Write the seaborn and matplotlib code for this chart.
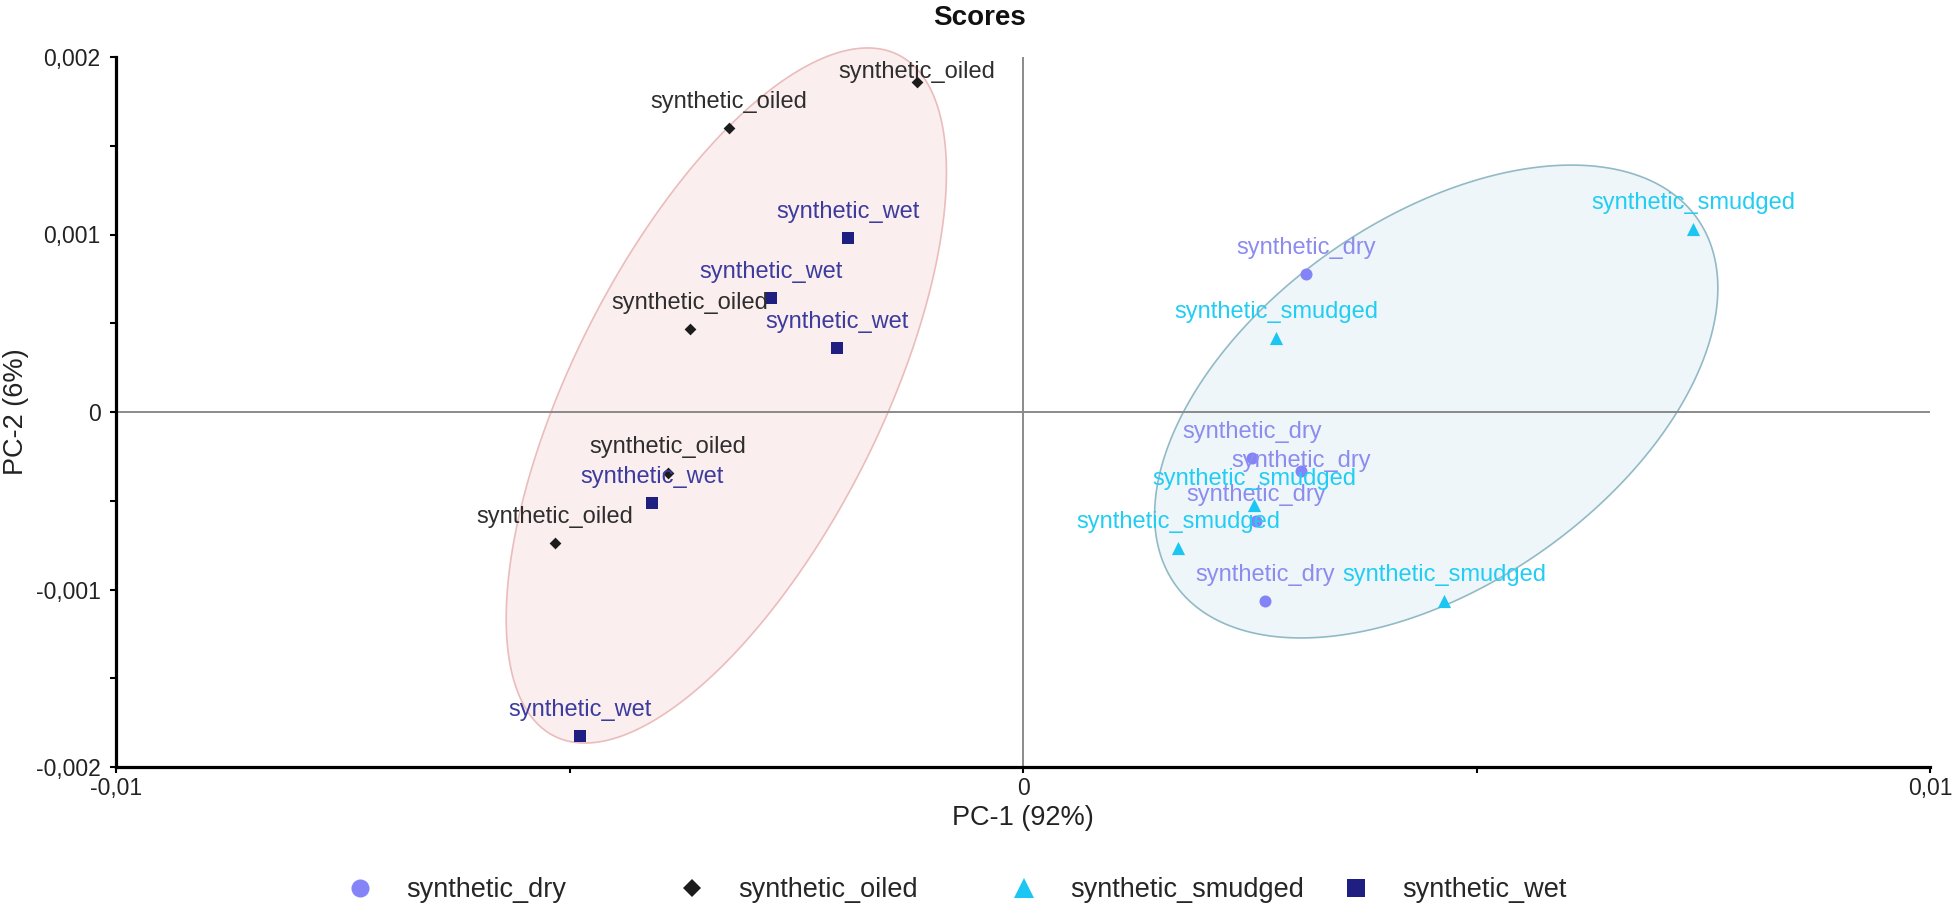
"""PCA scores plot (PC-1 vs PC-2) for the synthetic sample treatments."""

import matplotlib

matplotlib.use("Agg")
import matplotlib.pyplot as plt
import numpy as np
import pandas as pd
import seaborn as sns
from matplotlib.lines import Line2D

# ---- data ----
groups = ["synthetic_dry", "synthetic_oiled", "synthetic_smudged", "synthetic_wet"]

dry_pc1 = [0.003122, 0.002526, 0.003067, 0.002570, 0.002670]
dry_pc2 = [0.000777, -0.000259, -0.000332, -0.000614, -0.001065]

oiled_pc1 = [-0.001169, -0.003243, -0.003673, -0.003916, -0.005163]
oiled_pc2 = [0.001859, 0.001600, 0.000468, -0.000344, -0.000738]

smudged_pc1 = [0.007391, 0.002791, 0.002548, 0.001710, 0.004644]
smudged_pc2 = [0.001031, 0.000417, -0.000524, -0.000766, -0.001065]

wet_pc1 = [-0.001931, -0.002780, -0.002052, -0.004093, -0.004887]
wet_pc2 = [0.000980, 0.000642, 0.000361, -0.000513, -0.001825]

x_ticks = [-0.01, 0, 0.01]
x_tick_labels = ["-0,01", "0", "0,01"]
y_ticks = [-0.002, -0.001, 0, 0.001, 0.002]
y_tick_labels = ["-0,002", "-0,001", "0", "0,001", "0,002"]

# confidence ellipses: centre, half width (PC-1), half height (PC-2), correlation
ellipse_left = ((-0.003271, 0.000093), 0.002427, 0.001958, 0.642)
ellipse_right = ((0.004556, 0.000059), 0.003105, 0.001332, 0.480)

# ---- styling ----
marker_color = {
    "synthetic_dry": "#8484f8",
    "synthetic_oiled": "#1c1c1c",
    "synthetic_smudged": "#1cc6f2",
    "synthetic_wet": "#1f1f82",
}
label_color = {
    "synthetic_dry": "#8c8cf0",
    "synthetic_oiled": "#2e2e2e",
    "synthetic_smudged": "#22cdf4",
    "synthetic_wet": "#3c3c9e",
}
markers = {"synthetic_dry": "o", "synthetic_oiled": "D",
           "synthetic_smudged": "^", "synthetic_wet": "s"}
marker_area = {"synthetic_dry": 75, "synthetic_oiled": 36,
               "synthetic_smudged": 90, "synthetic_wet": 75}
legend_msize = {"synthetic_dry": 13, "synthetic_oiled": 9,
                "synthetic_smudged": 14, "synthetic_wet": 12.5}
# a couple of labels the original software pushed down to avoid collisions
label_lift = {("synthetic_oiled", 0): 2.9, ("synthetic_dry", 2): 2.9}
LABEL_LIFT_DEFAULT = 14.4


def ellipse_xy(center, half_w, half_h, rho, n=300):
    t = np.linspace(0, 2 * np.pi, n)
    x = center[0] + half_w * np.cos(t)
    y = center[1] + half_h * (rho * np.cos(t) + np.sqrt(1 - rho ** 2) * np.sin(t))
    return x, y


df = pd.concat(
    [
        pd.DataFrame({"pc1": dry_pc1, "pc2": dry_pc2, "sample": "synthetic_dry"}),
        pd.DataFrame({"pc1": oiled_pc1, "pc2": oiled_pc2, "sample": "synthetic_oiled"}),
        pd.DataFrame({"pc1": smudged_pc1, "pc2": smudged_pc2, "sample": "synthetic_smudged"}),
        pd.DataFrame({"pc1": wet_pc1, "pc2": wet_pc2, "sample": "synthetic_wet"}),
    ],
    ignore_index=True,
)

sns.set_theme(style="white")
plt.rcParams["font.family"] = ["Liberation Sans", "DejaVu Sans"]

W, H = 1960, 909
fig = plt.figure(figsize=(W / 100, H / 100), dpi=100)
ax = fig.add_axes([116 / W, 1 - 767 / H, (1930 - 116) / W, (767 - 57) / H])

# ellipses first, then the zero lines, then the points
ex, ey = ellipse_xy(*ellipse_left)
ax.fill(ex, ey, facecolor="#fbeeee", edgecolor="#ebbcbc", lw=1.2, zorder=1,
        clip_on=False)
ex, ey = ellipse_xy(*ellipse_right)
ax.fill(ex, ey, facecolor="#eef6f9", edgecolor="#92bac6", lw=1.2, zorder=1,
        clip_on=False)

ax.axhline(0, color="#8a8a8a", lw=1.4, zorder=2)
ax.axvline(0, color="#8a8a8a", lw=1.4, zorder=2)

for name in groups:
    sub = df[df["sample"] == name]
    sns.scatterplot(
        data=sub, x="pc1", y="pc2", color=marker_color[name],
        marker=markers[name], s=marker_area[name], linewidth=0,
        legend=False, ax=ax, zorder=3,
    )
    for i, (x, y) in enumerate(zip(sub["pc1"], sub["pc2"])):
        ax.annotate(
            name, (x, y),
            xytext=(0, label_lift.get((name, i), LABEL_LIFT_DEFAULT)),
            textcoords="offset points", ha="center", va="baseline",
            fontsize=17, color=label_color[name], zorder=4,
        )

ax.set_xlim(-0.01, 0.01)
ax.set_ylim(-0.002, 0.002)
ax.set_xticks(x_ticks)
ax.set_xticklabels(x_tick_labels)
ax.set_yticks(y_ticks)
ax.set_yticklabels(y_tick_labels)
ax.set_xticks([-0.005, 0.005], minor=True)
ax.set_yticks([-0.0015, -0.0005, 0.0005, 0.0015], minor=True)
ax.tick_params(which="both", direction="out", length=4, width=1.5,
               color="black", labelsize=16.5, labelcolor="#222222")
ax.tick_params(axis="y", which="major", pad=7)
ax.tick_params(axis="x", which="major", pad=3)
ax.tick_params(left=True, bottom=True, which="both")

for side in ("top", "right"):
    ax.spines[side].set_visible(False)
for side in ("left", "bottom"):
    ax.spines[side].set_color("black")
    ax.spines[side].set_linewidth(2.3)
    ax.spines[side].set_zorder(5)

ax.set_xlabel("PC-1 (92%)", fontsize=19.5, color="#222222")
ax.set_ylabel("PC-2 (6%)", fontsize=19.5, color="#222222")
ax.xaxis.label.set_va("center")
ax.xaxis.set_label_coords(0.5, (767 - 818) / 710)
ax.yaxis.label.set_va("center")
ax.yaxis.set_label_coords((16 - 116) / 1814, 0.5)

fig.text(0.5, 1 - 18 / H, "Scores", ha="center", va="center",
         fontsize=20, fontweight="bold", color="#111111")

# legend: four evenly spaced entries under the plot
for i, name in enumerate(groups):
    handle = Line2D([], [], linestyle="", marker=markers[name],
                    markersize=legend_msize[name], color=marker_color[name],
                    markeredgewidth=0)
    fig.legend(
        handles=[handle], labels=[name], loc="center left",
        bbox_to_anchor=((346 + i * 332) / W, 1 - 890 / H),
        frameon=False, fontsize=19.5, handlelength=1.0, handletextpad=1.24,
        borderpad=0, borderaxespad=0,
    )

fig.savefig("out.png", dpi=100)
plt.close(fig)
